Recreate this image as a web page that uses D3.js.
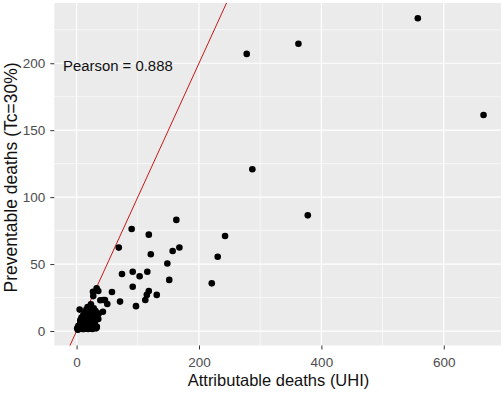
<!DOCTYPE html>
<html>
<head>
<meta charset="utf-8">
<script src="https://cdn.jsdelivr.net/npm/d3@7"></script>
<style>
  body { margin: 0; background: #fff; }
  svg { display: block; font-family: "Liberation Sans", Arial, sans-serif; }
</style>
</head>
<body>
<svg id="chart"></svg>
<script>
// attributable deaths (UHI) vs preventable deaths (Tc=30%)
let attributable = [
  557.6, 665, 362.5, 278, 287.2, 377.8,
  163, 242.6, 90, 118, 69, 157, 168, 121.3, 230.6, 148.3,
  74.2, 91.7, 103, 115.6, 151.4, 220.9, 91.7, 118, 114.8, 131,
  112.3, 97.1, 71, 57.8, 46.4, 50.2, 43, 43.7, 35.5, 27.3, 23.5,
  35.5, 33, 38.8, 26.8, 32.8,
  1, 2, 3, 4, 5, 6, 7, 8, 9, 10, 10, 11, 12, 13, 14, 15, 15, 16, 17, 18,
  18, 19, 20, 20, 21, 22, 22, 23, 24, 25, 25, 26, 27, 28, 28, 30, 30, 31,
  33, 34, 36, 5, 12, 8, 16, 26, 20, 14, 3, 6, 24, 29, 32, 11, 18
];
let preventable = [
  233.6, 161.4, 214.6, 207, 120.8, 86.4,
  83, 71, 76.2, 72, 62.3, 59.8, 62.4, 57.3, 55.5, 50.4,
  42.6, 44.3, 40.9, 44.3, 38.2, 35.6, 33.1, 29.9, 27, 27,
  23.2, 18.6, 22, 29.2, 23.2, 20.2, 14.4, 23.2, 29.9, 26.1, 19.9,
  9, 3.2, 23, 29.3, 31.9,
  2, 1, 4, 1.5, 3, 6, 2, 4, 7, 1.5, 5, 9, 3, 6, 11, 2, 8, 4, 13, 6,
  10, 1.5, 3, 15, 8, 5, 12, 16, 2, 7, 10, 14, 4, 9, 17, 6, 12, 15,
  3, 10, 13, 16, 1.5, 10, 16, 1.5, 11, 14, 3, 8, 6, 4, 2, 12, 18
];
let pearson = 0.888;
let xTicks = [0, 200, 400, 600];
let yTicks = [0, 50, 100, 150, 200];

let data = attributable.map((d, i) => ({x: d, y: preventable[i]}));

let width = 501, height = 394;
let pLeft = 54.3, pRight = 501, pTop = 3, pBottom = 345.5;

let svg = d3.select('#chart')
            .attr('width', width)
            .attr('height', height);

let xScale = d3.scaleLinear()
               .domain([-36.4, 693.5])
               .range([pLeft, pRight]);

let yScale = d3.scaleLinear()
               .domain([-10.8, 245])
               .range([pBottom, pTop]);

svg.append('rect')
   .attr('x', pLeft).attr('y', pTop)
   .attr('width', pRight - pLeft).attr('height', pBottom - pTop)
   .attr('fill', '#ebebeb');

svg.append('clipPath').attr('id', 'panel')
   .append('rect')
   .attr('x', pLeft).attr('y', pTop)
   .attr('width', pRight - pLeft).attr('height', pBottom - pTop);

// minor grid halfway between major ticks
let xMinor = [100, 300, 500];
let yMinor = [25, 75, 125, 175, 225];

let grid = svg.append('g');
grid.selectAll('.xminor').data(xMinor).enter().append('line')
    .attr('x1', d => xScale(d)).attr('x2', d => xScale(d))
    .attr('y1', pTop).attr('y2', pBottom)
    .attr('stroke', '#fff').attr('stroke-width', 0.6);
grid.selectAll('.yminor').data(yMinor).enter().append('line')
    .attr('y1', d => yScale(d)).attr('y2', d => yScale(d))
    .attr('x1', pLeft).attr('x2', pRight)
    .attr('stroke', '#fff').attr('stroke-width', 0.6);
grid.selectAll('.xmajor').data(xTicks).enter().append('line')
    .attr('x1', d => xScale(d)).attr('x2', d => xScale(d))
    .attr('y1', pTop).attr('y2', pBottom)
    .attr('stroke', '#fff').attr('stroke-width', 1.2);
grid.selectAll('.ymajor').data(yTicks).enter().append('line')
    .attr('y1', d => yScale(d)).attr('y2', d => yScale(d))
    .attr('x1', pLeft).attr('x2', pRight)
    .attr('stroke', '#fff').attr('stroke-width', 1.2);

let xAxis = d3.axisBottom(xScale).tickValues(xTicks).tickSize(4).tickPadding(7.5);
let yAxis = d3.axisLeft(yScale).tickValues(yTicks).tickSize(4).tickPadding(5);

let gx = svg.append('g')
   .attr('transform', `translate(0,${pBottom})`)
   .call(xAxis);
let gy = svg.append('g')
   .attr('transform', `translate(${pLeft},0)`)
   .call(yAxis);

[gx, gy].forEach(g => {
  g.select('.domain').remove();
  g.selectAll('line').attr('stroke', '#333').attr('stroke-width', 1);
  g.selectAll('text').attr('fill', '#4d4d4d').style('font-size', '13.5px');
});

svg.append('g').attr('clip-path', 'url(#panel)')
   .append('line')
   .attr('x1', xScale(-40)).attr('y1', yScale(-40))
   .attr('x2', xScale(260)).attr('y2', yScale(260))
   .attr('stroke', '#c81818').attr('stroke-width', 1);

svg.selectAll('circle')
   .data(data)
   .enter()
   .append('circle')
   .attr('cx', d => xScale(d.x))
   .attr('cy', d => yScale(d.y))
   .attr('r', 3.3)
   .attr('fill', '#000');

svg.append('text')
   .attr('x', 63)
   .attr('y', 70.7)
   .style('font-size', '14.9px')
   .attr('fill', '#111')
   .text(`Pearson = ${pearson}`);

svg.append('text')
   .attr('x', 278.5)
   .attr('y', 385.5)
   .style('font-size', '16.5px')
   .style('text-anchor', 'middle')
   .attr('fill', '#111')
   .text('Attributable deaths (UHI)');

svg.append('text')
   .attr('transform', 'rotate(-90)')
   .attr('x', -177.5)
   .attr('y', 16.5)
   .style('font-size', '17.5px')
   .style('text-anchor', 'middle')
   .attr('fill', '#111')
   .text('Preventable deaths (Tc=30%)');
</script>
</body>
</html>
